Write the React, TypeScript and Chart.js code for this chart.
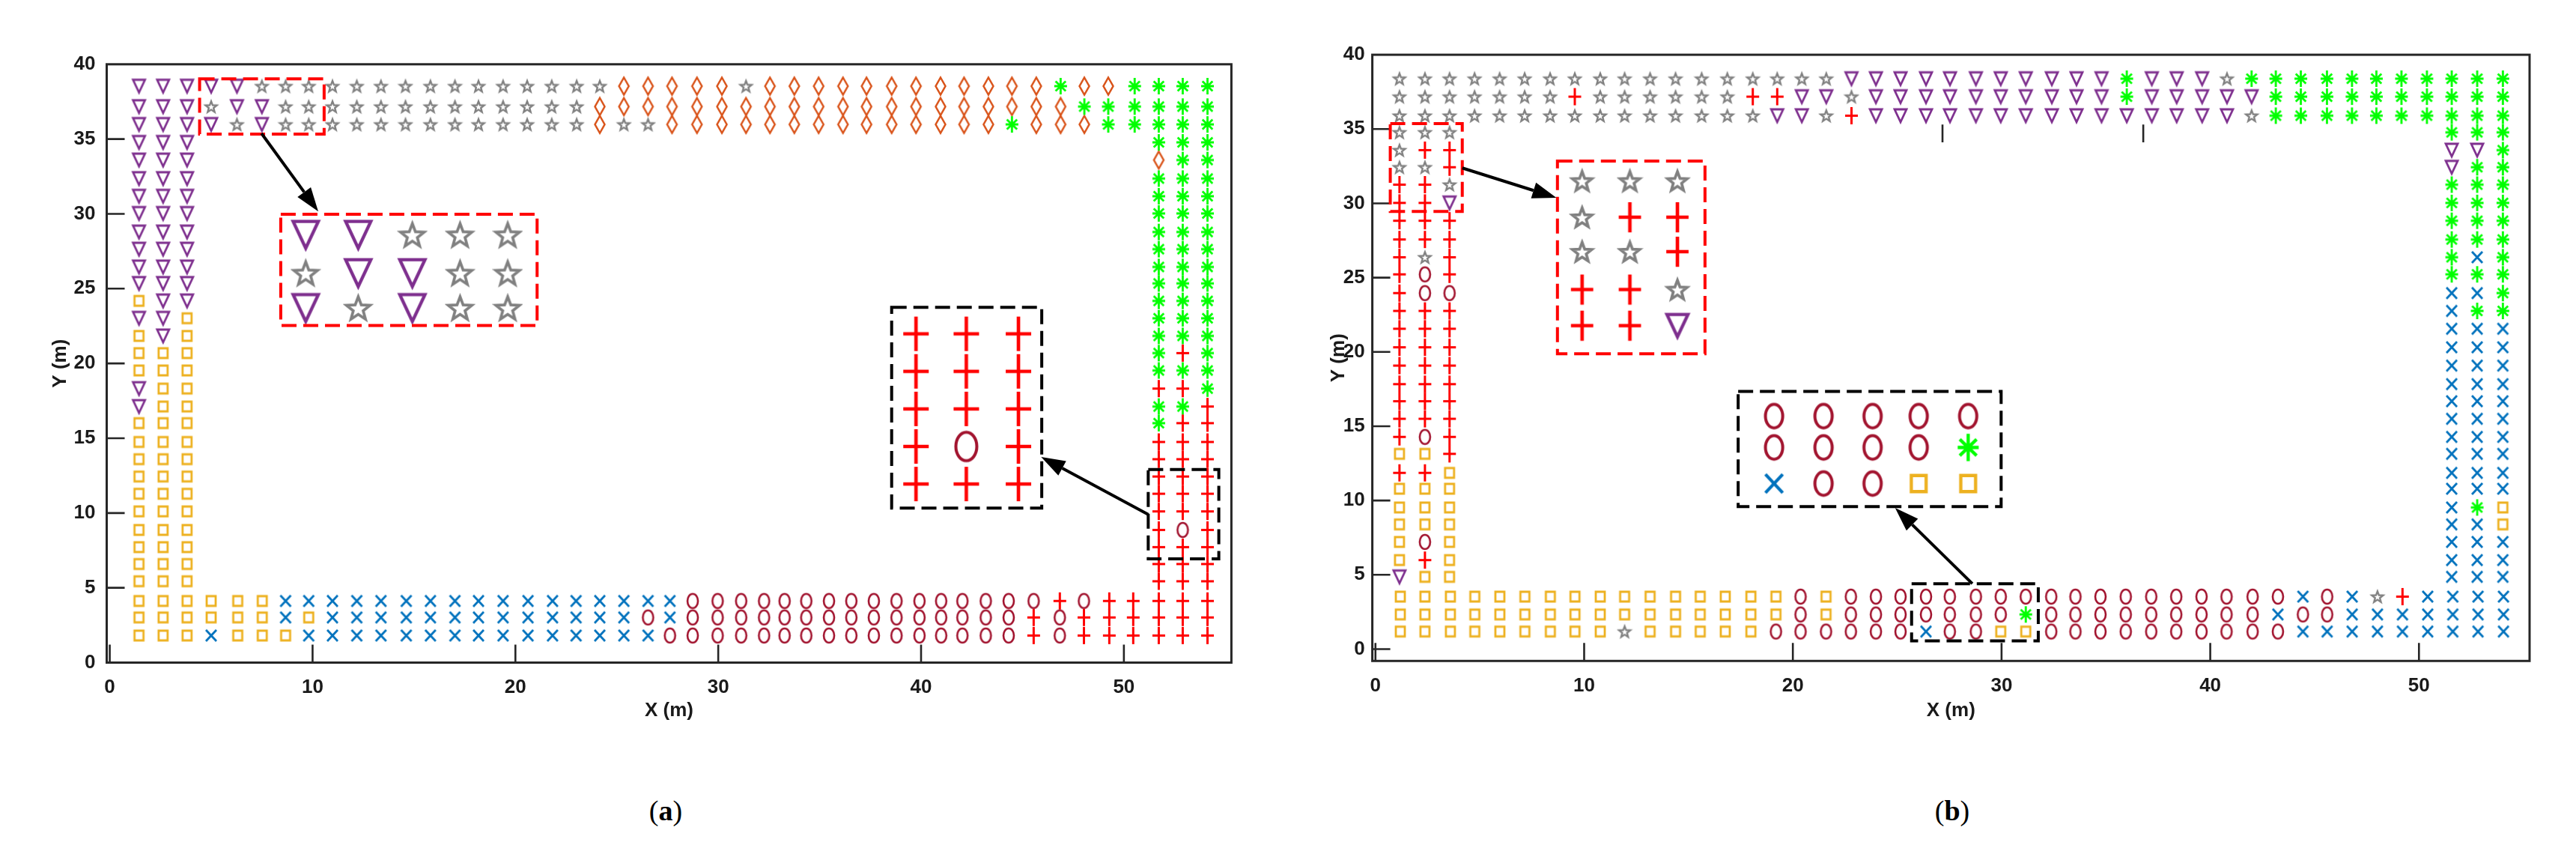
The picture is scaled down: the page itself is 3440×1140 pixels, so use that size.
import React, { useEffect, useRef } from "react";
import { Chart, registerables } from "chart.js";

Chart.register(...registerables);

type Code = "V" | "S" | "D" | "G" | "P" | "O" | "Q" | "X";
type Pt = { x: number; y: number };

// ---------- shared tick labels ----------
const X_TICKS = [0, 10, 20, 30, 40, 50];
const Y_TICKS = [0, 5, 10, 15, 20, 25, 30, 35, 40];

// ---------- panel (a) ----------
const A_X_TOP = [1.44, 2.63, 3.81, 5.0, 6.27, 7.5, 8.67, 9.81, 10.98, 12.18, 13.37, 14.58, 15.81, 17.02, 18.18, 19.39, 20.58, 21.79, 23.02, 24.16, 25.35, 26.54, 27.72, 28.95, 30.18, 31.37, 32.55, 33.75, 34.95, 36.15, 37.31, 38.55, 39.75, 40.96, 42.12, 43.32, 44.48, 45.68, 46.88, 48.05, 49.23, 50.53, 51.72, 52.9, 54.12];
const A_X_BOTTOM = [1.44, 2.63, 3.81, 5.0, 6.31, 7.52, 8.67, 9.81, 10.98, 12.18, 13.37, 14.62, 15.81, 17.02, 18.18, 19.39, 20.62, 21.83, 22.99, 24.16, 25.35, 26.54, 27.62, 28.74, 29.97, 31.13, 32.26, 33.27, 34.34, 35.46, 36.56, 37.67, 38.79, 39.92, 40.99, 42.04, 43.19, 44.32, 45.55, 46.84, 48.03, 49.28, 50.46, 51.72, 52.9, 54.12];
const A_Y_ROWS = [38.54, 37.17, 35.98, 34.78, 33.6, 32.36, 31.18, 30.03, 28.79, 27.64, 26.45, 25.35, 24.18, 23.02, 21.84, 20.69, 19.53, 18.32, 17.12, 16.01, 14.75, 13.6, 12.44, 11.29, 10.11, 8.87, 7.72, 6.59, 5.44, 4.12, 3.02, 1.81];
// class codes (run-length): V triangle, S star, D diamond, G asterisk, P plus, O circle, Q square, X cross
const A_TOP_ROWS = [
  "5V 15S 5D 1S 12D 1G 2D 4G",
  "3V 1S 2V 13S 20D 6G",
  "4V 1S 1V 13S 1D 2S 14D 1G 3D 5G",
];
const A_LEFT_ROWS = [
  "3V", "3V", "3V", "3V", "3V", "3V", "3V", "3V", "3V",
  "1Q 2V", "2V 1Q", "1Q 1V 1Q", "3Q", "3Q", "1V 2Q", "1V 2Q",
  "3Q", "3Q", "3Q", "3Q", "3Q", "3Q", "3Q", "3Q", "3Q", "3Q",
];
const A_RIGHT_ROWS = [
  "3G", "1D 2G", "3G", "3G", "3G", "3G", "3G", "3G", "3G", "3G", "3G", "3G",
  "1G 1P 1G", "3G", "2P 1G", "2G 1P", "1G 2P",
  "3P", "3P", "3P", "3P", "3P", "1P 1O 1P", "3P", "3P", "3P",
];
const A_BOTTOM_ROWS = [
  "6Q 17X 16O 1P 1O 5P",
  "6Q 1X 1Q 13X 1O 1X 15O 1P 1O 6P",
  "3Q 1X 3Q 15X 16O 1P 1O 6P",
];
const A_RED_SRC_BOX = [4.43, 39.03, 10.57, 35.33];
const A_RED_INSET_BOX = [8.43, 29.97, 21.07, 22.54];
const A_RED_ARROW = [7.48, 35.38, 10.28, 30.16];
const A_RED_INSET_X = [9.66, 12.25, 14.92, 17.27, 19.62];
const A_RED_INSET_Y = [28.6, 26.04, 23.71];
const A_BLACK_SRC_BOX = [51.2, 12.91, 54.68, 6.94];
const A_BLACK_INSET_BOX = [38.55, 23.75, 45.95, 10.33];
const A_BLACK_ARROW = [51.2, 9.9, 45.92, 13.75];
const A_BLACK_INSET_X = [39.75, 42.23, 44.8];
const A_BLACK_INSET_Y = [21.98, 19.47, 16.96, 14.45, 11.94];

// ---------- panel (b) ----------
const B_X_TOP = [1.15, 2.37, 3.55, 4.75, 5.95, 7.15, 8.37, 9.55, 10.77, 11.94, 13.16, 14.38, 15.63, 16.86, 18.08, 19.25, 20.43, 21.6, 22.81, 23.98, 25.16, 26.38, 27.53, 28.77, 29.96, 31.16, 32.41, 33.59, 34.79, 36.0, 37.2, 38.39, 39.61, 40.8, 41.98, 43.14, 44.34, 45.59, 46.79, 47.96, 49.16, 50.38, 51.57, 52.79, 54.02];
const B_X_BOTTOM = [1.19, 2.37, 3.59, 4.76, 5.96, 7.16, 8.38, 9.56, 10.77, 11.94, 13.16, 14.38, 15.56, 16.76, 17.99, 19.19, 20.37, 21.59, 22.78, 23.98, 25.16, 26.38, 27.52, 28.77, 29.96, 31.16, 32.38, 33.54, 34.74, 35.95, 37.17, 38.37, 39.58, 40.78, 42.03, 43.24, 44.44, 45.6, 46.8, 48.01, 49.21, 50.42, 51.62, 52.83, 54.05];
const B_Y_ROWS = [38.39, 37.18, 35.9, 34.78, 33.58, 32.43, 31.26, 30.03, 28.83, 27.57, 26.37, 25.22, 23.96, 22.76, 21.56, 20.31, 19.08, 17.83, 16.68, 15.5, 14.28, 13.14, 11.86, 10.79, 9.53, 8.39, 7.21, 5.99, 4.86, 3.53, 2.33, 1.18];
const B_TOP_ROWS = [
  "18S 11V 1G 3V 1S 11G",
  "7S 1P 6S 2P 2V 1S 10V 1G 5V 10G",
  "15S 2V 1S 1P 15V 1S 10G",
];
const B_LEFT_ROWS = [
  "3S", "1S 2P", "2S 1P", "2P 1S", "2P 1V", "3P", "3P", "1P 1S 1P", "1P 1O 1P", "1P 2O",
  "3P", "3P", "3P", "3P", "3P", "3P", "3P", "1P 1O 1P", "2Q 1P", "2P 1Q",
  "3Q", "3Q", "3Q", "1Q 1O 1Q", "1Q 1P 1Q", "1V 2Q",
];
const B_RIGHT_ROWS = [
  "3G", "2V 1G", "1V 2G", "3G", "3G", "3G", "3G", "1G 1X 1G", "3G", "2X 1G", "1X 2G",
  "3X", "3X", "3X", "3X", "3X", "3X", "3X", "3X", "3X", "3X",
  "1X 1G 1Q", "2X 1Q", "3X", "3X", "3X",
];
const B_BOTTOM_ROWS = [
  "16Q 1O 1Q 18O 1X 1O 1X 1S 1P 4X",
  "16Q 1O 1Q 7O 1G 9O 1X 2O 7X",
  "9Q 1S 5Q 6O 1X 2O 2Q 10O 9X",
];
const B_RED_SRC_BOX = [0.71, 35.37, 4.16, 29.45];
const B_RED_INSET_BOX = [8.72, 32.84, 15.79, 19.87];
const B_RED_ARROW = [4.16, 32.38, 8.67, 30.38];
const B_RED_INSET_X = [9.9, 12.19, 14.47];
const B_RED_INSET_Y = [31.51, 29.07, 26.75, 24.2, 21.77];
const B_BLACK_SRC_BOX = [25.69, 4.4, 31.76, 0.55];
const B_BLACK_INSET_BOX = [17.38, 17.34, 29.98, 9.59];
const B_BLACK_ARROW = [28.6, 4.4, 24.9, 9.5];
const B_BLACK_INSET_X = [19.1, 21.47, 23.82, 26.03, 28.4];
const B_BLACK_INSET_Y = [15.68, 13.57, 11.14];
const B_STRAY_X = [27.17, 36.79];
const B_STRAY_Y = [34.1, 35.3];

// ---------- styles ----------
const CODES: Code[] = ["Q", "X", "O", "P", "G", "D", "S", "V"];
const MARK: Record<Code, { color: string; w: number; h: number; lw: number }> = {
  V: { color: "#7E2F8E", w: 16, h: 17, lw: 2.8 },
  S: { color: "#808080", w: 15, h: 16, lw: 2.4 },
  D: { color: "#D95319", w: 13, h: 23, lw: 2.5 },
  G: { color: "#00FF00", w: 17, h: 22, lw: 2.8 },
  P: { color: "#FF0000", w: 17, h: 23, lw: 3 },
  O: { color: "#A2142F", w: 14, h: 19, lw: 2.6 },
  Q: { color: "#EDB120", w: 12, h: 13, lw: 2.8 },
  X: { color: "#0072BD", w: 14, h: 15, lw: 2.8 },
};
const FONT = "'Liberation Sans', Arial, sans-serif";

function rle(s: string): string {
  return s
    .split(/\s+/)
    .filter(Boolean)
    .map((t) => {
      const m = t.match(/^(\d+)([A-Z])$/)!;
      return m[2].repeat(parseInt(m[1], 10));
    })
    .join("");
}

function makeMarker(code: Code, scale: number, lwScale: number): HTMLCanvasElement {
  const m = MARK[code];
  const w = m.w * scale;
  const h = m.h * scale;
  const lw = m.lw * lwScale;
  const c = document.createElement("canvas");
  c.width = Math.ceil(w + 2 * lw + 2);
  c.height = Math.ceil(h + 2 * lw + 2);
  const ctx = c.getContext("2d")!;
  ctx.strokeStyle = m.color;
  ctx.lineWidth = lw;
  ctx.lineJoin = "miter";
  const cx = c.width / 2;
  const cy = c.height / 2;
  const hw = w / 2;
  const hh = h / 2;
  ctx.beginPath();
  if (code === "V") {
    ctx.moveTo(cx - hw, cy - hh);
    ctx.lineTo(cx + hw, cy - hh);
    ctx.lineTo(cx, cy + hh);
    ctx.closePath();
  } else if (code === "S") {
    const R = Math.min(w / 1.902, h / 1.809);
    const oy = cy + 0.0955 * R;
    for (let i = 0; i < 10; i++) {
      const a = -Math.PI / 2 + (i * Math.PI) / 5;
      const r = i % 2 === 0 ? R : R * 0.42;
      const px = cx + r * Math.cos(a);
      const py = oy + r * Math.sin(a);
      if (i === 0) ctx.moveTo(px, py);
      else ctx.lineTo(px, py);
    }
    ctx.closePath();
  } else if (code === "D") {
    ctx.moveTo(cx, cy - hh);
    ctx.lineTo(cx + hw, cy);
    ctx.lineTo(cx, cy + hh);
    ctx.lineTo(cx - hw, cy);
    ctx.closePath();
  } else if (code === "G") {
    ctx.moveTo(cx, cy - hh);
    ctx.lineTo(cx, cy + hh);
    ctx.moveTo(cx - hw, cy);
    ctx.lineTo(cx + hw, cy);
    ctx.moveTo(cx - hw * 0.8, cy - hh * 0.6);
    ctx.lineTo(cx + hw * 0.8, cy + hh * 0.6);
    ctx.moveTo(cx + hw * 0.8, cy - hh * 0.6);
    ctx.lineTo(cx - hw * 0.8, cy + hh * 0.6);
  } else if (code === "P") {
    ctx.moveTo(cx, cy - hh);
    ctx.lineTo(cx, cy + hh);
    ctx.moveTo(cx - hw, cy);
    ctx.lineTo(cx + hw, cy);
  } else if (code === "O") {
    ctx.ellipse(cx, cy, hw, hh, 0, 0, Math.PI * 2);
  } else if (code === "Q") {
    ctx.rect(cx - hw, cy - hh, w, h);
  } else if (code === "X") {
    ctx.moveTo(cx - hw, cy - hh);
    ctx.lineTo(cx + hw, cy + hh);
    ctx.moveTo(cx + hw, cy - hh);
    ctx.lineTo(cx - hw, cy + hh);
  }
  ctx.stroke();
  return c;
}

type Inset = {
  rows: string[];
  xs: number[];
  ys: number[];
  srcBox: number[];
  insetBox: number[];
  arrow: number[];
  color: string;
  scale: number;
};

type PanelCfg = {
  left: number;
  width: number;
  height: number;
  xMin: number;
  xMax: number;
  yMin: number;
  yMax: number;
  yAxisW: number;
  xAxisH: number;
  padTop: number;
  padRight: number;
  yTitlePad: number;
  xTitlePad: number;
  yTickPad: number;
  xTickPad: number;
  xTop: number[];
  xBottom: number[];
  yRows: number[];
  topRows: string[];
  leftRows: string[];
  rightRows: string[];
  bottomRows: string[];
  insets: Inset[];
  strayX: number[];
  strayY: number[];
};

function gridPoints(p: PanelCfg): Record<Code, Pt[]> {
  const out = {} as Record<Code, Pt[]>;
  CODES.forEach((c) => (out[c] = []));
  const push = (row: string, xs: number[], y: number) => {
    for (let i = 0; i < row.length && i < xs.length; i++) out[row[i] as Code].push({ x: xs[i], y });
  };
  p.topRows.forEach((r, i) => push(rle(r), p.xTop, p.yRows[i]));
  p.leftRows.forEach((r, j) => push(rle(r), p.xTop.slice(0, 3), p.yRows[3 + j]));
  p.rightRows.forEach((r, j) => push(rle(r), p.xTop.slice(-3), p.yRows[3 + j]));
  p.bottomRows.forEach((r, k) => push(rle(r), p.xBottom, p.yRows[29 + k]));
  return out;
}

function drawArrow(ctx: CanvasRenderingContext2D, x1: number, y1: number, x2: number, y2: number) {
  const ang = Math.atan2(y2 - y1, x2 - x1);
  const headLen = 32;
  const headW = 22;
  const bx = x2 - headLen * Math.cos(ang);
  const by = y2 - headLen * Math.sin(ang);
  ctx.strokeStyle = "#000";
  ctx.fillStyle = "#000";
  ctx.lineWidth = 4;
  ctx.setLineDash([]);
  ctx.beginPath();
  ctx.moveTo(x1, y1);
  ctx.lineTo(bx, by);
  ctx.stroke();
  ctx.beginPath();
  ctx.moveTo(x2, y2);
  ctx.lineTo(bx - (headW / 2) * Math.sin(ang), by + (headW / 2) * Math.cos(ang));
  ctx.lineTo(bx + (headW / 2) * Math.sin(ang), by - (headW / 2) * Math.cos(ang));
  ctx.closePath();
  ctx.fill();
}

function makeFramePlugin(p: PanelCfg) {
  return {
    id: "frameAndInsets",
    afterDatasetsDraw(chart: any) {
      const { ctx, chartArea: ca } = chart;
      const xs = chart.scales.x;
      const ys = chart.scales.y;
      const X = (v: number) => xs.getPixelForValue(v);
      const Y = (v: number) => ys.getPixelForValue(v);
      ctx.save();
      ctx.strokeStyle = "#262626";
      ctx.lineWidth = 2.6;
      ctx.beginPath();
      X_TICKS.forEach((v) => {
        const px = X(v);
        if (px > ca.left + 3 && px < ca.right - 3) {
          ctx.moveTo(px, ca.bottom);
          ctx.lineTo(px, ca.bottom - 24);
        }
      });
      Y_TICKS.forEach((v) => {
        const py = Y(v);
        if (py > ca.top + 3 && py < ca.bottom - 3) {
          ctx.moveTo(ca.left, py);
          ctx.lineTo(ca.left + 24, py);
        }
      });
      p.strayX.forEach((v) => {
        ctx.moveTo(X(v), Y(p.strayY[0]));
        ctx.lineTo(X(v), Y(p.strayY[1]));
      });
      ctx.stroke();
      ctx.lineWidth = 3;
      ctx.strokeRect(ca.left, ca.top, ca.right - ca.left, ca.bottom - ca.top);
      p.insets.forEach((ins) => {
        ctx.strokeStyle = ins.color;
        ctx.lineWidth = 4;
        ctx.setLineDash([20, 9]);
        [ins.srcBox, ins.insetBox].forEach((b) => {
          const x1 = X(b[0]);
          const y1 = Y(b[1]);
          const x2 = X(b[2]);
          const y2 = Y(b[3]);
          ctx.strokeRect(x1, y1, x2 - x1, y2 - y1);
        });
        drawArrow(ctx, X(ins.arrow[0]), Y(ins.arrow[1]), X(ins.arrow[2]), Y(ins.arrow[3]));
      });
      ctx.restore();
    },
  };
}

function buildConfig(p: PanelCfg): any {
  const grid = gridPoints(p);
  const datasets: any[] = [];
  CODES.forEach((c) => {
    datasets.push({
      label: c,
      data: grid[c],
      pointStyle: makeMarker(c, 1, 1),
      pointRadius: 6,
      showLine: false,
    });
  });
  p.insets.forEach((ins, k) => {
    CODES.forEach((c) => {
      const pts: Pt[] = [];
      ins.rows.forEach((row, i) => {
        for (let j = 0; j < row.length; j++) if (row[j] === c) pts.push({ x: ins.xs[j], y: ins.ys[i] });
      });
      if (pts.length)
        datasets.push({
          label: c + "-inset" + k,
          data: pts,
          pointStyle: makeMarker(c, ins.scale, 1.55),
          pointRadius: 12,
          showLine: false,
        });
    });
  });
  const tickFont = { family: FONT, size: 26, weight: "bold" as const };
  return {
    type: "scatter",
    data: { datasets },
    options: {
      responsive: false,
      animation: false,
      devicePixelRatio: 1,
      events: [],
      layout: { autoPadding: false, padding: { top: p.padTop, right: p.padRight, left: 0, bottom: 0 } },
      plugins: { legend: { display: false }, tooltip: { enabled: false } },
      scales: {
        x: {
          type: "linear",
          min: p.xMin,
          max: p.xMax,
          grid: { display: false, drawTicks: false },
          border: { display: false },
          ticks: { font: tickFont, color: "#1a1a1a", padding: p.xTickPad, maxRotation: 0 },
          title: {
            display: true,
            text: "X (m)",
            font: tickFont,
            color: "#1a1a1a",
            padding: { top: 0, bottom: p.xTitlePad },
          },
          afterBuildTicks: (s: any) => {
            s.ticks = X_TICKS.map((v) => ({ value: v }));
          },
          afterFit: (s: any) => {
            s.height = p.xAxisH;
            s.paddingLeft = 0;
            s.paddingRight = 0;
          },
        },
        y: {
          type: "linear",
          min: p.yMin,
          max: p.yMax,
          grid: { display: false, drawTicks: false },
          border: { display: false },
          ticks: { font: tickFont, color: "#1a1a1a", padding: p.yTickPad },
          title: {
            display: true,
            text: "Y (m)",
            font: tickFont,
            color: "#1a1a1a",
            padding: { top: p.yTitlePad, bottom: 0 },
          },
          afterBuildTicks: (s: any) => {
            s.ticks = Y_TICKS.map((v) => ({ value: v }));
          },
          afterFit: (s: any) => {
            s.width = p.yAxisW;
            s.paddingTop = 0;
            s.paddingBottom = 0;
          },
        },
      },
    },
    plugins: [makeFramePlugin(p)],
  };
}

const sliceRows = (rows: string[], from: number, to: number, c0: number, c1: number) =>
  rows.slice(from, to).map((r) => rle(r).slice(c0, c1));

const PANEL_A: PanelCfg = {
  left: 0,
  width: 1720,
  height: 1000,
  xMin: -0.15,
  xMax: 55.3,
  yMin: 0,
  yMax: 40,
  yAxisW: 142.5,
  xAxisH: 115.5,
  padTop: 85.8,
  padRight: 75.6,
  yTitlePad: 65,
  xTitlePad: 36,
  yTickPad: 15,
  xTickPad: 18,
  xTop: A_X_TOP,
  xBottom: A_X_BOTTOM,
  yRows: A_Y_ROWS,
  topRows: A_TOP_ROWS,
  leftRows: A_LEFT_ROWS,
  rightRows: A_RIGHT_ROWS,
  bottomRows: A_BOTTOM_ROWS,
  insets: [
    {
      rows: sliceRows(A_TOP_ROWS, 0, 3, 3, 8),
      xs: A_RED_INSET_X,
      ys: A_RED_INSET_Y,
      srcBox: A_RED_SRC_BOX,
      insetBox: A_RED_INSET_BOX,
      arrow: A_RED_ARROW,
      color: "#FF0000",
      scale: 2.1,
    },
    {
      rows: sliceRows(A_RIGHT_ROWS, 19, 24, 0, 3),
      xs: A_BLACK_INSET_X,
      ys: A_BLACK_INSET_Y,
      srcBox: A_BLACK_SRC_BOX,
      insetBox: A_BLACK_INSET_BOX,
      arrow: A_BLACK_ARROW,
      color: "#000000",
      scale: 2.0,
    },
  ],
  strayX: [],
  strayY: [],
};

const PANEL_B: PanelCfg = {
  left: 1720,
  width: 1720,
  height: 1000,
  xMin: -0.15,
  xMax: 55.3,
  yMin: -0.8,
  yMax: 40,
  yAxisW: 112.6,
  xAxisH: 117.7,
  padTop: 73.1,
  padRight: 62,
  yTitlePad: 52,
  xTitlePad: 36,
  yTickPad: 10,
  xTickPad: 18,
  xTop: B_X_TOP,
  xBottom: B_X_BOTTOM,
  yRows: B_Y_ROWS,
  topRows: B_TOP_ROWS,
  leftRows: B_LEFT_ROWS,
  rightRows: B_RIGHT_ROWS,
  bottomRows: B_BOTTOM_ROWS,
  insets: [
    {
      rows: sliceRows(B_LEFT_ROWS, 0, 5, 0, 3),
      xs: B_RED_INSET_X,
      ys: B_RED_INSET_Y,
      srcBox: B_RED_SRC_BOX,
      insetBox: B_RED_INSET_BOX,
      arrow: B_RED_ARROW,
      color: "#FF0000",
      scale: 1.75,
    },
    {
      rows: sliceRows(B_BOTTOM_ROWS, 0, 3, 21, 26),
      xs: B_BLACK_INSET_X,
      ys: B_BLACK_INSET_Y,
      srcBox: B_BLACK_SRC_BOX,
      insetBox: B_BLACK_INSET_BOX,
      arrow: B_BLACK_ARROW,
      color: "#000000",
      scale: 1.65,
    },
  ],
  strayX: B_STRAY_X,
  strayY: B_STRAY_Y,
};

function Panel({ cfg }: { cfg: PanelCfg }) {
  const ref = useRef<HTMLCanvasElement>(null);
  useEffect(() => {
    const chart = new Chart(ref.current as HTMLCanvasElement, buildConfig(cfg));
    return () => chart.destroy();
  }, [cfg]);
  return (
    <div style={{ position: "absolute", left: cfg.left, top: 0, width: cfg.width, height: cfg.height }}>
      <canvas
        ref={ref}
        width={cfg.width}
        height={cfg.height}
        style={{ width: cfg.width, height: cfg.height, display: "block" }}
      />
    </div>
  );
}

const captionStyle: React.CSSProperties = {
  position: "absolute",
  top: 1082,
  transform: "translate(-50%, -50%)",
  fontFamily: "'Liberation Serif', 'Times New Roman', serif",
  fontSize: 38,
  color: "#000",
  whiteSpace: "nowrap",
};

export default function App() {
  return (
    <div
      style={{
        position: "absolute",
        left: 0,
        top: 0,
        width: 3440,
        height: 1140,
        background: "#fff",
        overflow: "hidden",
      }}
    >
      <Panel cfg={PANEL_A} />
      <Panel cfg={PANEL_B} />
      <div style={{ ...captionStyle, left: 889 }}>
        (<b>a</b>)
      </div>
      <div style={{ ...captionStyle, left: 2607 }}>
        (<b>b</b>)
      </div>
    </div>
  );
}
